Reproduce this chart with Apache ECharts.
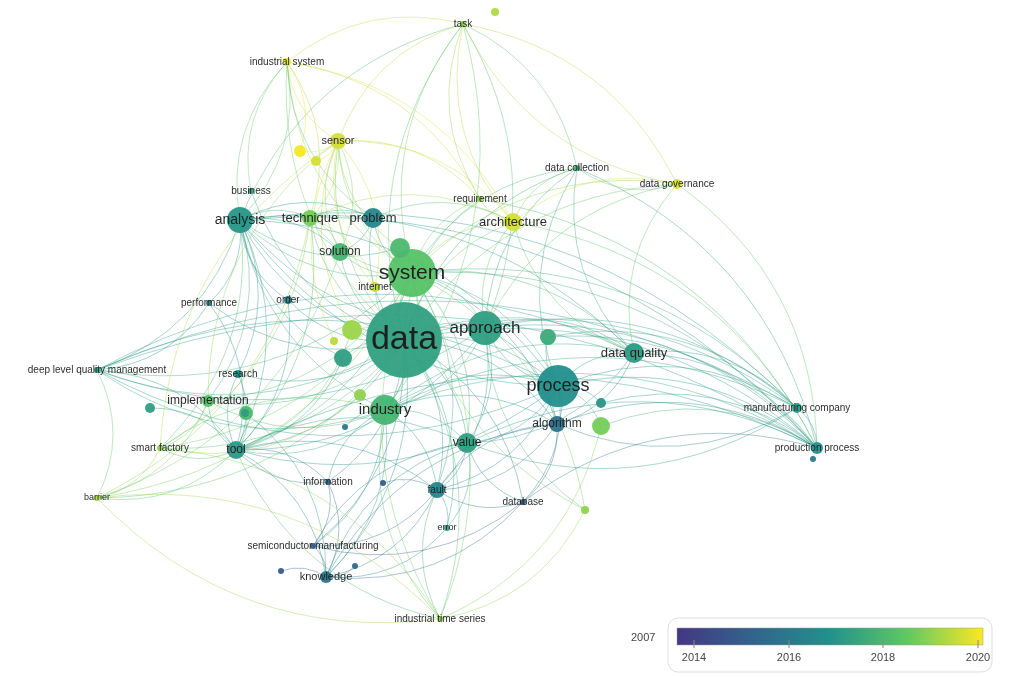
<!DOCTYPE html>
<html><head><meta charset="utf-8">
<script src="https://cdn.jsdelivr.net/npm/echarts@6/dist/echarts.min.js"></script>
<style>html,body{margin:0;padding:0;background:#fff}#c{width:1013px;height:678px}</style>
</head><body><div id="c"></div>
<script>
// node arrays
const labels = ["data","system","approach","process","industry","data quality","analysis","technique","problem","solution",
"internet","architecture","requirement","data collection","data governance","sensor","industrial system","task","business","performance",
"order","deep level quality management","research","implementation","smart factory","tool","barrier","information","fault","error",
"database","semiconductor manufacturing","knowledge","industrial time series","value","algorithm","manufacturing company","production process",
"","","","","","","","","","","","","","","","","","","",""];
const xs = [404,412,485,558,385,634,240,310,373,340, 375,513,480,577,677,338,287,463,251,209, 288,97,238,208,160,236,97,328,437,447, 523,313,326,440,467,557,797,817,
 400,352,343,548,601,601,300,316,150,246,585,383,281,355,345,813,334,360,495,245];
const ys = [340,273,328,386,410,353,220,218,218,252, 287,222,199,168,184,141,62,24,191,303, 300,370,374,401,448,450,498,482,490,528, 502,546,577,619,443,424,408,448,
 248,330,358,337,426,403,151,161,408,413,510,483,571,566,427,459,341,395,12,413];
const sizes = [38,24,17,21,15,10,13,8,10,9, 5,9,3,3,5,8,4,3,3,3, 4,3,4,6,3,9,3,3,8,3, 3,3,6,3,10,8,5,6,
 10,10,9,8,9,5,6,5,5,7,4,3,3,3,3,3,4,6,4,4];
const years = [2016.6,2018,2016.5,2015.9,2017.4,2016.4,2016.2,2018.6,2015.6,2017.4, 2019.8,2020,2019,2017,2020,2020,2020.3,2019,2016.6,2015.6,
 2015.4,2016.6,2015.6,2018,2019,2016.3,2019.5,2014.5,2015.5,2016.6, 2014.2,2014,2015,2019,2016.5,2014.8,2016.3,2016,
 2017.6,2019.2,2016.5,2017,2018.6,2016.2,2020.5,2020,2016.5,2017.6,2019,2014,2014,2014.5,2015,2015,2019.6,2019,2019.5,2016.5];
const fontSizes = [34,21,17,18,15,13,14,13,13,12, 10,13,10,10,10,11,10,10,10,10, 10,10,10,12,10,12,9,10,10,9, 10,10,11,10,12,12,10,10];
// edges as [source,target] indices
const edges = [
[0,1],[0,2],[0,3],[0,4],[0,5],[0,6],[0,7],[0,8],[0,9],[0,10],[0,11],[0,12],[0,13],[0,14],[0,15],[0,16],[0,17],[0,18],[0,19],
[0,20],[0,21],[0,22],[0,23],[0,24],[0,25],[0,26],[0,27],[0,28],[0,29],[0,30],[0,31],[0,32],[0,33],[0,34],[0,35],[0,36],[0,37],
[1,2],[1,3],[1,4],[1,5],[1,6],[1,7],[1,8],[1,11],[1,13],[1,14],[1,15],[1,16],[1,17],[1,25],[1,28],[1,36],[1,37],[1,33],[1,26],
[3,5],[3,36],[3,37],[3,35],[3,2],[3,34],[3,30],[3,28],[3,6],[3,25],[3,13],[3,21],
[5,36],[5,37],[2,36],[2,37],[4,36],[4,37],[34,37],[35,37],[6,37],[25,37],[42,37],[41,36],[13,37],[14,37],[21,37],
[15,16],[15,7],[15,17],[15,11],[15,44],[15,45],[16,44],[16,7],[16,11],[16,17],[11,14],[11,12],[11,17],[11,13],[14,13],[14,17],
[7,25],[7,24],[7,26],[24,26],[23,26],[23,24],[25,26],[6,25],[6,21],[6,19],[6,22],[6,24],[25,24],[21,25],[19,25],
[27,32],[27,31],[31,32],[28,32],[28,31],[30,31],[30,32],[28,29],[29,32],[33,25],[33,4],[33,28],[33,1],[33,26],
[4,25],[4,28],[4,32],[4,31],[35,30],[35,28],[34,28],[34,29],[48,2],[48,1],[10,15],[9,15],[8,16],[6,16],[18,16],
[39,15],[40,25],[38,15],[12,17],[2,13],[1,48],[2,14],[6,17],[24,15],[9,26],[47,32],[43,37],[42,33],
[2,6],[2,25],[2,4],[2,28],[2,34],[2,21],[2,5],[2,35],[2,11],[4,6],[4,21],[4,23],[4,34],[4,35],[4,5],[4,3],
[1,9],[1,10],[1,12],[1,23],[1,21],[1,24],[1,34],[1,35],[6,23],[6,7],[6,8],[6,9],[6,3],[6,5],[6,36],
[25,34],[25,28],[25,32],[25,27],[25,23],[25,22],[21,36],[21,5],[21,3],[21,26],[24,33],[24,4],[26,33],
[5,35],[5,34],[5,11],[5,13],[5,14],[36,37],[36,35],[36,34],[3,42],[3,43],[3,41],[41,37],[11,37],[12,37],
[32,34],[32,35],[31,34],[30,34],[30,28],[30,37],[28,35],[27,25],[27,4],[50,32],[51,32],[49,28],[52,4],
[7,8],[7,9],[8,9],[7,11],[8,11],[7,10],[15,10],[15,9],[15,12],[16,12],[16,6],[17,13],[17,14],[17,2],[17,4],
[38,1],[38,6],[39,0],[39,25],[40,0],[40,6],[54,15],[55,24],[46,25],[47,25],[48,33],[23,15],[22,25],[20,25],[20,6],[19,21]
];
function viridis(t){
  const c=[[68,1,84],[59,82,139],[33,145,140],[94,201,98],[253,231,37]];
  t=Math.max(0,Math.min(1,t))*(c.length-1);const i=Math.min(Math.floor(t),c.length-2),f=t-i;
  const r=c[i].map((v,k)=>Math.round(v+(c[i+1][k]-v)*f));return 'rgb('+r.join(',')+')';
}
const ymin=2013.2,ymax=2020.6;
const colOf=y=>viridis(0.2+0.8*(y-ymin)/(ymax-ymin));
const nodes = labels.map((n,i)=>({
  id:String(i), name:n||('n'+i), value:[xs[i],ys[i]], symbolSize:sizes[i]*2,
  itemStyle:{color:colOf(years[i]),opacity:0.95},
  label:{show:!!n,position:'inside',fontSize:fontSizes[i]||10,color:'#1a1a1a',fontFamily:'Liberation Sans, Arial, sans-serif',formatter:n}
}));
const links = edges.map(([s,t])=>({source:String(s),target:String(t),
  lineStyle:{color:colOf((years[s]+years[t])/2),opacity:0.4,width:1,curveness:0.25}}));
const chart=echarts.init(document.getElementById('c'));
chart.setOption({
  animation:false,
  grid:{left:0,top:0,right:0,bottom:0},
  xAxis:{type:'value',min:0,max:1013,show:false},
  yAxis:{type:'value',min:0,max:678,inverse:true,show:false},
  series:[{type:'graph',coordinateSystem:'cartesian2d',layout:'none',data:nodes,links:links,
    z:2,emphasis:{disabled:true}}],
  graphic:[
    {type:'rect',shape:{x:668,y:618,width:324,height:54,r:10},style:{fill:'#fff',stroke:'#ddd',lineWidth:1},z:10},
    {type:'rect',shape:{x:677,y:628,width:306,height:17},z:11,style:{stroke:'#999',lineWidth:0.5,fill:new echarts.graphic.LinearGradient(0,0,1,0,[
      {offset:0,color:'rgb(68,55,130)'},{offset:0.25,color:'rgb(50,100,140)'},{offset:0.5,color:'rgb(33,145,140)'},{offset:0.75,color:'rgb(94,201,98)'},{offset:1,color:'rgb(253,231,37)'}])}},
    {type:'text',x:631,y:632,z:11,style:{text:'2007',fontSize:11,fill:'#444',fontFamily:'Liberation Sans, Arial'}},
    ...[['2014',694],['2016',789],['2018',883],['2020',978]].map(([t,x])=>({type:'group',z:11,children:[
      {type:'line',z:12,shape:{x1:x,y1:640,x2:x,y2:648},style:{stroke:'#888',lineWidth:1}},
      {type:'text',z:12,x:x,y:652,style:{text:t,fontSize:11,fill:'#444',align:'center',fontFamily:'Liberation Sans, Arial'}}]}))
  ]
});
</script></body></html>
